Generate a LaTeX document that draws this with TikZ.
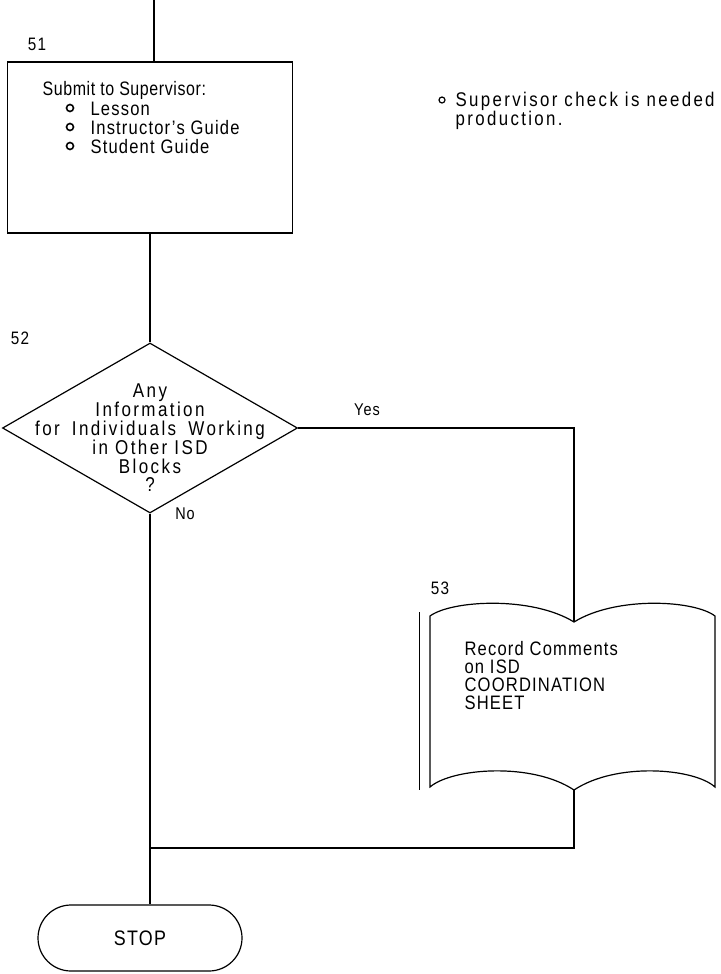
\documentclass[tikz,border=0pt]{standalone}
\usepackage{fontspec}
\setmainfont{Liberation Sans}[FakeStretch=0.85, LetterSpace=6]
\newfontfamily\widefont{Liberation Sans}[FakeStretch=0.85, LetterSpace=12]
\newfontfamily\tightfont{Liberation Sans}[FakeStretch=0.82, LetterSpace=3]
\usetikzlibrary{shapes.geometric}
\begin{document}
\begin{tikzpicture}[x=1pt,y=-1pt,line width=1.2pt,
  txt/.style={inner sep=0, anchor=base west, font=\fontsize{19.5}{21}\selectfont},
  lbl/.style={inner sep=0, font=\fontsize{18}{20}\selectfont},
  ring/.style={draw, circle, line width=1.6pt, minimum size=7pt, inner sep=0},
  flow/.style={draw, line width=1.2pt}]
\useasboundingbox (0,0) rectangle (720,974);
\clip (0,0) rectangle (720,974);

% block 51
\node[lbl] (n51) at (37,44) {51};
\node[flow, minimum width=285, minimum height=171, inner sep=0] (box51) at (150,147.5) {};
\node[txt, font=\tightfont\fontsize{19.5}{21}\selectfont] (t1) at (42,95) {Submit to Supervisor:};
\node[ring] (b1) at (70,108) {};
\node[txt] (t2) at (90,115) {Lesson};
\node[ring] (b2) at (70,127) {};
\node[txt] (t3) at (90,134) {Instructor's Guide};
\node[ring] (b3) at (70,146) {};
\node[txt] (t4) at (90,153) {Student Guide};

% note
\node[ring, line width=1.2pt, minimum size=6pt] (nb) at (442,100) {};
\node[inner sep=0, anchor=north west, align=left, font=\widefont\fontsize{19.8}{18}\selectfont] (note) at (455,91.5)
  {Supervisor check is needed\\production.};

% decision 52
\node[lbl] (n52) at (20,338) {52};
\node[flow, diamond, minimum width=295, minimum height=170, inner sep=0] (d52) at (150,428) {};
\node[inner sep=0, align=center, font=\widefont\fontsize{20}{18.8}\selectfont] (d52t) at (150,438)
  {Any\\Information\\for\hspace{0.25em} Individuals\hspace{0.25em} Working\\in Other ISD\\Blocks\\?};
\node[lbl, font=\fontsize{17}{18}\selectfont] (yes) at (367,410) {Yes};
\node[lbl, font=\fontsize{17}{18}\selectfont] (no) at (185,514) {No};

% document 53
\node[lbl] (n53) at (440,588) {53};
\coordinate (v53) at (574,622);
\coordinate (o53) at (574,790);
\draw (430,616) .. controls (452,600) and (532,596) .. (v53)
      .. controls (616,596) and (694,600) .. (715,616)
      -- (715,787)
      .. controls (694,768) and (616,762) .. (o53)
      .. controls (532,762) and (452,768) .. (430,787) -- cycle;
\draw[line width=0.8pt] (419,612) -- (419,790);
\node[inner sep=0, anchor=north west, align=left, font=\fontsize{19.5}{18}\selectfont] (doc53) at (464,641)
  {Record Comments\\on ISD\\COORDINATION\\SHEET};

% terminal
\node[flow, rounded corners=33, minimum width=204, minimum height=66, inner sep=0,
  font=\fontsize{21}{22}\selectfont] (stop) at (140,938) {STOP};

% connectors
\coordinate (in51) at (154,0);
\coordinate (mrow) at (0,848);
\draw (in51) -- (in51 |- box51.north);
\draw (box51.south) -- (d52.north);
\draw (d52.east) -| (v53);
\draw (d52.south) -- (d52.south |- stop.north);
\draw (o53) |- (d52.south |- mrow);
\end{tikzpicture}
\end{document}
